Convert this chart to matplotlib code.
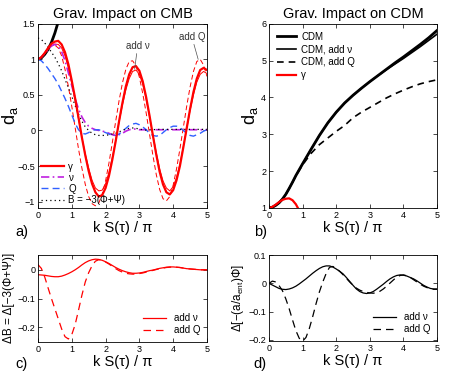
import matplotlib
matplotlib.use("Agg")
import matplotlib.pyplot as plt

plt.rcParams["font.family"] = ["Liberation Sans", "DejaVu Sans"]
plt.rcParams["mathtext.fontset"] = "custom"
plt.rcParams["mathtext.rm"] = "Liberation Sans"

# ---- data ----
x = [i / 10 for i in range(51)]

gamma = [1.00, 1.03, 1.09, 1.16, 1.22, 1.25, 1.26, 1.21, 1.10, 0.93,
         0.70, 0.45, 0.18, -0.10, -0.35, -0.57, -0.75, -0.87, -0.93, -0.91,
         -0.81, -0.64, -0.41, -0.15, 0.13, 0.39, 0.62, 0.79, 0.89, 0.905,
         0.84, 0.69, 0.47, 0.21, -0.07, -0.34, -0.58, -0.76, -0.87, -0.90,
         -0.84, -0.70, -0.50, -0.24, 0.03, 0.30, 0.54, 0.73, 0.85, 0.88, 0.85]
gamma_nu = [1.00, 1.03, 1.08, 1.14, 1.19, 1.215, 1.21, 1.16, 1.05, 0.88,
            0.66, 0.42, 0.16, -0.10, -0.33, -0.53, -0.70, -0.81, -0.85, -0.84,
            -0.75, -0.59, -0.38, -0.14, 0.12, 0.36, 0.57, 0.73, 0.83, 0.85,
            0.79, 0.65, 0.44, 0.20, -0.06, -0.31, -0.54, -0.71, -0.81, -0.85,
            -0.79, -0.66, -0.47, -0.23, 0.02, 0.28, 0.50, 0.68, 0.79, 0.83, 0.80]
gamma_q = [1.00, 1.03, 1.09, 1.15, 1.19, 1.20, 1.16, 1.05, 0.86, 0.62,
           0.34, 0.04, -0.26, -0.53, -0.76, -0.93, -1.03, -1.06, -1.02, -0.90,
           -0.71, -0.46, -0.17, 0.13, 0.42, 0.67, 0.86, 0.97, 0.98, 0.91,
           0.75, 0.52, 0.25, -0.05, -0.35, -0.62, -0.83, -0.96, -0.99, -0.93,
           -0.77, -0.54, -0.26, 0.04, 0.34, 0.61, 0.83, 0.97, 1.00, 0.92, 0.76]
nu = [1.00, 1.03, 1.08, 1.14, 1.19, 1.21, 1.19, 1.11, 0.98, 0.81,
      0.63, 0.45, 0.30, 0.19, 0.11, 0.06, 0.03, 0.01, 0.00, -0.01,
      -0.02, -0.04, -0.06, -0.07, -0.06, -0.04, -0.01, 0.01, 0.02, 0.02,
      0.01, 0.01, 0.01, 0.01, 0.01, 0.01, 0.01, 0.01, 0.01, 0.01,
      0.01, 0.01, 0.01, 0.01, 0.01, 0.01, 0.01, 0.01, 0.01, 0.01, 0.01]
q = [1.00, 0.98, 0.93, 0.87, 0.80, 0.73, 0.65, 0.55, 0.45, 0.34,
     0.22, 0.10, 0.01, -0.04, -0.05, -0.03, 0.00, 0.01, 0.01, -0.01,
     -0.03, -0.05, -0.07, -0.07, -0.05, -0.01, 0.03, 0.07, 0.09, 0.10,
     0.08, 0.05, 0.01, -0.04, -0.07, -0.08, -0.07, -0.03, 0.01, 0.04,
     0.06, 0.06, 0.04, 0.00, -0.04, -0.07, -0.08, -0.06, -0.04, -0.01, 0.01]
b_pot = [1.30, 1.28, 1.23, 1.17, 1.10, 1.03, 0.94, 0.84, 0.72, 0.60,
         0.48, 0.35, 0.23, 0.13, 0.05, 0.00, -0.04, -0.06, -0.07, -0.07,
         -0.07, -0.06, -0.05, -0.04, -0.02, 0.00, 0.02, 0.03, 0.035, 0.03,
         0.02, 0.01, 0.005, 0.01, 0.01, 0.015, 0.015, 0.015, 0.015, 0.015,
         0.015, 0.015, 0.015, 0.015, 0.015, 0.015, 0.015, 0.015, 0.015, 0.015, 0.015]

x_cdm = [0.0, 0.1, 0.2, 0.3, 0.4, 0.5, 0.6, 0.7, 0.8, 0.9, 1.0,
         1.25, 1.5, 1.75, 2.0, 2.25, 2.5, 2.75, 3.0, 3.25, 3.5,
         3.75, 4.0, 4.25, 4.5, 4.75, 5.0]
cdm = [1.00, 1.02, 1.07, 1.14, 1.24, 1.37, 1.53, 1.70, 1.88, 2.04, 2.20,
       2.59, 2.97, 3.31, 3.60, 3.85, 4.06, 4.25, 4.43, 4.60, 4.77,
       4.94, 5.10, 5.27, 5.44, 5.62, 5.82]
cdm_nu = [1.00, 1.02, 1.07, 1.14, 1.24, 1.37, 1.53, 1.70, 1.88, 2.04, 2.20,
          2.59, 2.97, 3.31, 3.60, 3.85, 4.06, 4.25, 4.43, 4.60, 4.76,
          4.91, 5.06, 5.22, 5.38, 5.55, 5.72]
cdm_q = [1.00, 1.02, 1.07, 1.14, 1.24, 1.37, 1.53, 1.70, 1.87, 2.02, 2.17,
         2.48, 2.72, 2.90, 3.08, 3.24, 3.45, 3.60, 3.73, 3.86, 3.99,
         4.10, 4.20, 4.29, 4.37, 4.43, 4.48]

dB_nu = [-0.017, -0.018, -0.019, -0.021, -0.023, -0.024, -0.024, -0.022, -0.018, -0.013,
         -0.007, 0.000, 0.008, 0.017, 0.025, 0.031, 0.035, 0.037, 0.036, 0.033,
         0.028, 0.022, 0.015, 0.008, 0.002, -0.003, -0.007, -0.010, -0.012, -0.012,
         -0.011, -0.009, -0.006, -0.003, -0.001, 0.002, 0.005, 0.007, 0.009, 0.010,
         0.010, 0.009, 0.008, 0.006, 0.004, 0.003, 0.002, 0.001, 0.000, 0.000, 0.000]
dB_q = [0.018, 0.005, -0.025, -0.063, -0.100, -0.135, -0.170, -0.205, -0.232, -0.240,
        -0.225, -0.190, -0.140, -0.088, -0.042, -0.010, 0.014, 0.030, 0.035, 0.033,
        0.027, 0.020, 0.012, 0.004, -0.003, -0.008, -0.012, -0.014, -0.015, -0.015,
        -0.013, -0.011, -0.008, -0.005, -0.002, 0.001, 0.004, 0.006, 0.008, 0.009,
        0.010, 0.009, 0.008, 0.006, 0.004, 0.003, 0.002, 0.001, 0.000, 0.000, 0.000]

dPhi_nu = [0.000, -0.006, -0.012, -0.018, -0.021, -0.022, -0.020, -0.016, -0.010, -0.002,
           0.007, 0.016, 0.026, 0.036, 0.045, 0.053, 0.059, 0.062, 0.062, 0.058,
           0.051, 0.043, 0.034, 0.021, 0.007, -0.007, -0.020, -0.029, -0.034, -0.036,
           -0.034, -0.029, -0.021, -0.012, -0.003, 0.007, 0.016, 0.023, 0.028, 0.030,
           0.029, 0.026, 0.021, 0.016, 0.009, 0.001, -0.007, -0.013, -0.018, -0.020, -0.020]
dPhi_q = [0.000, 0.008, 0.005, -0.008, -0.026, -0.055, -0.090, -0.130, -0.168, -0.195,
          -0.205, -0.192, -0.160, -0.118, -0.072, -0.030, 0.005, 0.035, 0.057, 0.060,
          0.053, 0.043, 0.031, 0.018, 0.005, -0.007, -0.017, -0.024, -0.029, -0.032,
          -0.034, -0.035, -0.033, -0.028, -0.020, -0.010, 0.001, 0.012, 0.022, 0.028,
          0.030, 0.027, 0.021, 0.013, 0.005, -0.003, -0.010, -0.015, -0.019, -0.021, -0.021]

xticks = [0, 1, 2, 3, 4, 5]
xlab = "k S(τ) / π"
red = "#ff0000"


def style(ax, ylim, yticks):
    ax.set_xlim(0, 5)
    ax.set_ylim(*ylim)
    ax.set_xticks(xticks)
    ax.set_yticks(yticks)
    ax.tick_params(direction="in", top=True, right=True, length=3,
                   width=0.5, labelsize=6.5, pad=2)
    for s in ax.spines.values():
        s.set_linewidth(0.6)
    ax.set_xlabel(xlab, fontsize=10.5, labelpad=1)


fig = plt.figure(figsize=(4.63, 3.72), dpi=100)
ax_a = fig.add_axes([0.082, 0.441, 0.365, 0.495])
ax_b = fig.add_axes([0.581, 0.441, 0.363, 0.495])
ax_c = fig.add_axes([0.082, 0.081, 0.365, 0.234])
ax_d = fig.add_axes([0.581, 0.083, 0.363, 0.231])

# a) CMB
ax_a.plot(x_cdm, cdm, color="k", lw=2.0)
ax_a.plot(x, gamma_nu, color=red, lw=0.7)
ax_a.plot(x, gamma_q, color=red, lw=0.7, ls=(0, (5, 3)))
ax_a.plot(x, nu, color="#c020e0", lw=1.2, ls=(0, (5, 2, 1, 2)), label="ν")
ax_a.plot(x, q, color="#3060ff", lw=1.0, ls=(0, (5, 3)), label="Q")
ax_a.plot(x, b_pot, color="k", lw=0.9, ls=(0, (1, 2.5)), label="B = −3(Φ+Ψ)")
ax_a.plot(x, gamma, color=red, lw=1.6, label="γ")
h, l = ax_a.get_legend_handles_labels()
order = [3, 0, 1, 2]
ax_a.legend([h[i] for i in order], [l[i] for i in order], loc="lower left",
            frameon=False, fontsize=7, handlelength=2.4, labelspacing=0.12,
            borderaxespad=0.1, borderpad=0.2, handletextpad=0.4)
ax_a.annotate("add ν", xy=(2.86, 0.86), xytext=(2.95, 1.12), fontsize=7,
              ha="center", va="bottom", color="0.2",
              arrowprops=dict(arrowstyle="-", lw=0.5, color="0.3",
                              shrinkA=0, shrinkB=0))
ax_a.annotate("add Q", xy=(4.74, 1.0), xytext=(4.55, 1.25), fontsize=7,
              ha="center", va="bottom", color="0.2",
              arrowprops=dict(arrowstyle="-", lw=0.5, color="0.3",
                              shrinkA=0, shrinkB=0))
style(ax_a, (-1.09, 1.5), [-1, -0.5, 0, 0.5, 1, 1.5])
ax_a.set_yticklabels(["−1", "−0.5", "0", "0.5", "1", "1.5"])
ax_a.set_title("Grav. Impact on CMB", fontsize=10.5, pad=4)
ax_a.set_ylabel("$\\mathregular{d_a}$", fontsize=13)
ax_a.yaxis.set_label_coords(-0.105, 0.5)

# b) CDM
ax_b.plot(x_cdm, cdm, color="k", lw=2.0, label="CDM")
ax_b.plot(x_cdm, cdm_nu, color="k", lw=1.2, label="CDM, add ν")
ax_b.plot(x_cdm, cdm_q, color="k", lw=1.2, ls=(0, (4, 3)), label="CDM, add Q")
ax_b.plot(x, gamma, color=red, lw=1.6, label="γ")
ax_b.legend(loc="upper left", frameon=False, fontsize=7, handlelength=2.0,
            labelspacing=0.3, borderaxespad=0.4, handletextpad=0.5)
style(ax_b, (1, 6), [1, 2, 3, 4, 5, 6])
ax_b.set_title("Grav. Impact on CDM", fontsize=10.5, pad=4)
ax_b.set_ylabel("$\\mathregular{d_a}$", fontsize=13)
ax_b.yaxis.set_label_coords(-0.055, 0.5)

# c) delta B
ax_c.plot(x, dB_nu, color=red, lw=0.9, label="add ν")
ax_c.plot(x, dB_q, color=red, lw=0.9, ls=(0, (6, 4)), label="add Q")
ax_c.legend(loc="lower right", frameon=False, fontsize=7, handlelength=2.4,
            labelspacing=0.2, borderaxespad=0.3)
style(ax_c, (-0.25, 0.052), [-0.2, -0.1, 0])
ax_c.set_yticklabels(["−0.2", "−0.1", "0"])
ax_c.set_ylabel("ΔB = Δ[−3(Φ+Ψ)]", fontsize=8.5, labelpad=2)

# d) delta potential
ax_d.plot(x, dPhi_nu, color="k", lw=0.9, label="add ν")
ax_d.plot(x, dPhi_q, color="k", lw=0.9, ls=(0, (6, 4)), label="add Q")
ax_d.legend(loc="lower right", frameon=False, fontsize=7, handlelength=2.4,
            labelspacing=0.2, borderaxespad=0.3)
style(ax_d, (-0.205, 0.1), [-0.2, -0.1, 0, 0.1])
ax_d.set_yticklabels(["−0.2", "−0.1", "0", "0.1"])
ax_d.set_ylabel("Δ[−(a/a$_\\mathregular{ent}$)Φ]", fontsize=8.5, labelpad=2)

for lab, px, py in [("a)", 0.033, 0.365), ("b)", 0.548, 0.365),
                    ("c)", 0.033, 0.012), ("d)", 0.548, 0.012)]:
    fig.text(px, py, lab, fontsize=10.5)

fig.savefig("out.png", dpi=100)
